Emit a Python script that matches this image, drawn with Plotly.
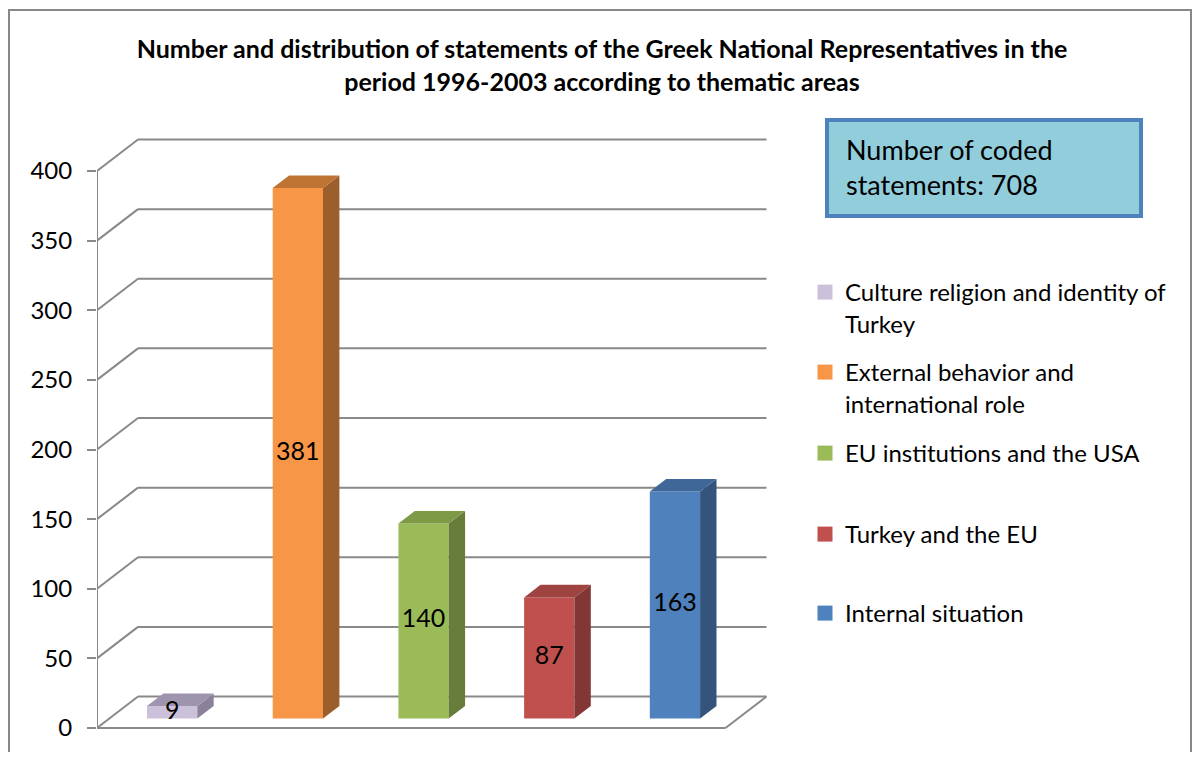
import plotly.graph_objects as go

# ---- data ----
categories = [
    "Culture religion and identity of<br>Turkey",
    "External behavior and<br>international role",
    "EU institutions and the USA",
    "Turkey and the EU",
    "Internal situation",
]
values = [9, 381, 140, 87, 163]
tick_values = [0, 50, 100, 150, 200, 250, 300, 350, 400]
title_text = ("<b>Number and distribution of statements of the Greek National Representatives in the<br>"
              "period 1996-2003 according to thematic areas</b>")
box_text = "Number of coded<br>statements: 708"

front_colors = ["#CCC1DA", "#F79646", "#9BBB59", "#C0504D", "#4F81BD"]
side_colors = ["#8B8299", "#9C5E2B", "#687D3B", "#823735", "#34547D"]
top_colors = ["#9E94AE", "#BF7332", "#7E9A47", "#9E4340", "#3F6899"]

# ---- layout geometry (screen pixels; the page body adds an 8px margin) ----
OFF = 8
W, H = 1200 - 2 * OFF, 760 - 2 * OFF   # figure size so the page does not overflow
L, R, T, B = 97, 800, 130, 740          # plot area in screen pixels
PX_PER_X = 125.7
PX_PER_Y = 1.3925
Y0_PX = 728
XR = [-0.5, -0.5 + (R - L) / PX_PER_X]
YR = [-(B - Y0_PX) / PX_PER_Y, (Y0_PX - T) / PX_PER_Y]
DX = 41 / PX_PER_X          # depth vector in data units
DY = 31.5 / PX_PER_Y
F0, FD = 0.3, 0.4           # bar depth start / thickness (fraction of depth)
BW = 0.4                    # bar width
GRID = "#898989"
FONT = "Lato"


def px(xp):
    return (xp - L) / (R - L)


def py(yp):
    return (B - yp) / (B - T)


fig = go.Figure()

xs = [i + F0 * DX for i in range(len(values))]
base = F0 * DY
legend_names = ["legend", "legend2", "legend3", "legend4", "legend5"]

# front faces
for i, (c, v) in enumerate(zip(categories, values)):
    fig.add_trace(go.Bar(
        x=[xs[i]], y=[v], base=[base], width=[BW], name=c,
        marker=dict(color=front_colors[i], line=dict(width=0)),
        showlegend=False, hoverinfo="skip",
    ))

# side and top faces
for i, v in enumerate(values):
    xl, xr_ = xs[i] - BW / 2, xs[i] + BW / 2
    y0, y1 = base, base + v
    ddx, ddy = FD * DX, FD * DY
    fig.add_trace(go.Scatter(
        x=[xr_, xr_ + ddx, xr_ + ddx, xr_, xr_],
        y=[y0, y0 + ddy, y1 + ddy, y1, y0],
        fill="toself", fillcolor=side_colors[i], mode="lines",
        line=dict(width=0, color=side_colors[i]), showlegend=False, hoverinfo="skip"))
    fig.add_trace(go.Scatter(
        x=[xl, xr_, xr_ + ddx, xl + ddx, xl],
        y=[y1, y1, y1 + ddy, y1 + ddy, y1],
        fill="toself", fillcolor=top_colors[i], mode="lines",
        line=dict(width=0, color=top_colors[i]), showlegend=False, hoverinfo="skip"))

# legend entries (square keys)
for i, c in enumerate(categories):
    fig.add_trace(go.Scatter(
        x=[None], y=[None], mode="markers", name=c,
        marker=dict(symbol="square", size=15, color=front_colors[i]),
        legend=legend_names[i], showlegend=True, hoverinfo="skip"))

# data labels
fig.add_trace(go.Scatter(
    x=xs, y=[base + v / 2 for v in values], mode="text",
    text=[str(v) for v in values], textposition="middle center",
    textfont=dict(family=FONT, size=25, color="black"),
    showlegend=False, hoverinfo="skip"))

# walls / grid
shapes = []
xa, xb = XR[0], 4.5
for v in tick_values:
    shapes.append(dict(type="line", xref="x", yref="y", x0=xa + DX, x1=xb + DX,
                       y0=v + DY, y1=v + DY, line=dict(color=GRID, width=2), layer="below"))
    shapes.append(dict(type="line", xref="x", yref="y", x0=xa, x1=xa + DX,
                       y0=v, y1=v + DY, line=dict(color=GRID, width=2), layer="below"))
shapes.append(dict(type="line", xref="x", yref="y", x0=xa, x1=xb, y0=0, y1=0,
                   line=dict(color=GRID, width=2), layer="below"))
shapes.append(dict(type="line", xref="x", yref="y", x0=xb, x1=xb + DX, y0=0, y1=DY,
                   line=dict(color=GRID, width=2), layer="below"))
shapes.append(dict(type="line", xref="x", yref="y", x0=xa, x1=xa, y0=0, y1=max(tick_values),
                   line=dict(color=GRID, width=2), layer="below"))
# outer frame
shapes.append(dict(type="rect", xref="paper", yref="paper", x0=px(9), x1=px(1191),
                   y0=py(775), y1=py(10), line=dict(color="#888888", width=2), layer="below"))
# text box
shapes.append(dict(type="rect", xref="paper", yref="paper", x0=px(827), x1=px(1141),
                   y0=py(216), y1=py(120), line=dict(color="#4F81BD", width=4),
                   fillcolor="#92CDDC", layer="above"))

annotations = [dict(text=box_text, xref="paper", yref="paper", x=px(844), y=py(167),
                    xanchor="left", yanchor="middle", align="left", showarrow=False,
                    font=dict(family=FONT, size=27, color="black"))]

legend_y = [270, 350, 431, 512, 591]
legend_cfg = {}
for name, yy in zip(legend_names, legend_y):
    legend_cfg[name] = dict(x=px(805), y=py(yy), xanchor="left", yanchor="top",
                            bgcolor="rgba(0,0,0,0)", valign="top",
                            font=dict(family=FONT, size=24, color="black"),
                            itemsizing="trace",
                            itemclick=False, itemdoubleclick=False)

fig.update_layout(
    width=W, height=H,
    margin=dict(l=L - OFF, r=W - (R - OFF), t=T - OFF, b=H - (B - OFF), autoexpand=False),
    paper_bgcolor="white", plot_bgcolor="rgba(0,0,0,0)",
    title=dict(text=title_text, x=(602 - OFF) / W, xref="container", xanchor="center",
               y=1 - (58 - OFF) / H, yref="container", yanchor="middle",
               font=dict(family=FONT, size=25, color="black")),
    xaxis=dict(range=XR, showgrid=False, zeroline=False, showticklabels=False,
               ticks="", showline=False, fixedrange=True),
    yaxis=dict(range=YR, tickvals=tick_values, showgrid=False, zeroline=False,
               showline=False, ticks="outside", ticklen=9, tickwidth=2, tickcolor=GRID,
               ticklabelstandoff=10,
               tickfont=dict(family=FONT, size=24, color="black"), fixedrange=True),
    barmode="overlay",
    shapes=shapes, annotations=annotations,
    showlegend=True,
    **legend_cfg,
)

fig.write_html("out.html")
